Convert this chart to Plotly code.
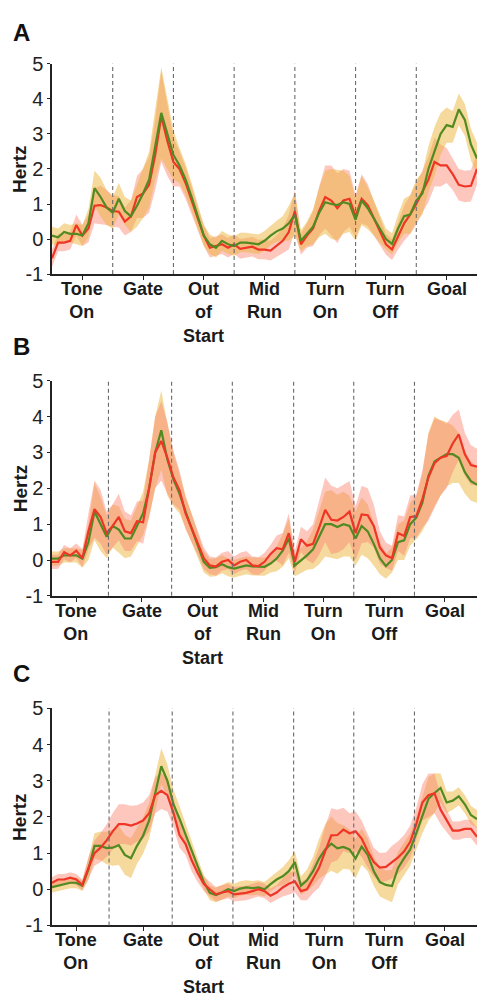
import plotly.graph_objects as go

TIME = [0.0, 0.1, 0.2, 0.3, 0.4, 0.5, 0.6, 0.7, 0.8, 0.9,
        1.0, 1.1, 1.2, 1.3, 1.4, 1.5, 1.6, 1.7, 1.8, 1.9,
        2.0, 2.1, 2.2, 2.3, 2.4, 2.5, 2.6, 2.7, 2.8, 2.9,
        3.0, 3.1, 3.2, 3.3, 3.4, 3.5, 3.6, 3.7, 3.8, 3.9,
        4.0, 4.1, 4.2, 4.3, 4.4, 4.5, 4.6, 4.7, 4.8, 4.9,
        5.0, 5.1, 5.2, 5.3, 5.4, 5.5, 5.6, 5.7, 5.8, 5.9,
        6.0, 6.1, 6.2, 6.3, 6.4, 6.5, 6.6, 6.7, 6.8, 6.9, 7.0]

CATEGORIES = ["Tone<br>On", "Gate", "Out<br>of<br>Start", "Mid<br>Run",
              "Turn<br>On", "Turn<br>Off", "Goal"]
PANEL_LABELS = ["A", "B", "C"]
Y_TICKS = [-1, 0, 1, 2, 3, 4, 5]

# ---- Panel A ----
RED_A = [-0.55, -0.1, -0.1, -0.05, 0.4, 0.1, 0.3, 0.95, 0.97, 0.9,
         0.8, 0.78, 0.5, 0.65, 1.2, 1.3, 1.55, 2.4, 3.5, 2.8,
         2.2, 2.0, 1.6, 1.1, 0.55, 0.1, -0.25, -0.2, -0.15, -0.25,
         -0.15, -0.28, -0.25, -0.22, -0.3, -0.3, -0.33, -0.2, -0.05, 0.2,
         0.8, -0.15, 0.1, 0.3, 0.8, 1.2, 1.1, 0.88, 1.1, 1.15,
         0.65, 1.15, 0.97, 0.6, 0.2, -0.15, -0.3, 0.1, 0.45, 0.7,
         1.0, 1.35, 1.7, 2.2, 2.1, 2.1, 1.85, 1.55, 1.5, 1.52, 2.0]
GREEN_A = [0.1, 0.05, 0.2, 0.15, 0.15, 0.1, 0.45, 1.45, 1.2, 0.9,
           0.75, 1.15, 0.8, 0.65, 0.95, 1.3, 1.7, 2.7, 3.6, 3.0,
           2.4, 2.1, 1.7, 1.2, 0.65, 0.1, -0.15, -0.25, -0.05, -0.15,
           -0.2, -0.1, -0.1, -0.12, -0.15, -0.05, 0.1, 0.22, 0.3, 0.45,
           0.7, -0.05, 0.15, 0.35, 0.75, 1.05, 1.0, 0.97, 1.05, 1.0,
           0.55, 1.1, 0.88, 0.6, 0.3, 0.0, -0.14, 0.3, 0.65, 0.7,
           1.1, 1.3, 2.0, 2.5, 3.0, 3.25, 3.2, 3.7, 3.4, 2.7, 2.3]
SEM_A = [0.25, 0.25, 0.25, 0.25, 0.3, 0.3, 0.4, 0.5, 0.55, 0.5,
         0.45, 0.45, 0.4, 0.45, 0.6, 0.7, 0.8, 1.0, 1.3, 1.0,
         0.7, 0.5, 0.45, 0.4, 0.35, 0.3, 0.28, 0.28, 0.28, 0.28,
         0.28, 0.28, 0.28, 0.28, 0.28, 0.28, 0.28, 0.3, 0.35, 0.5,
         0.6, 0.3, 0.35, 0.5, 0.7, 0.9, 1.0, 1.0, 0.9, 0.8,
         0.6, 0.7, 0.6, 0.5, 0.4, 0.3, 0.3, 0.4, 0.5, 0.55,
         0.6, 0.6, 0.65, 0.7, 0.6, 0.5, 0.45, 0.45, 0.45, 0.45, 0.45]

# ---- Panel B ----
RED_B = [-0.05, -0.05, 0.22, 0.13, 0.26, 0.05, 0.8, 1.42, 1.2, 0.75,
         0.95, 1.2, 0.8, 0.75, 1.08, 1.05, 2.0, 3.0, 3.32, 2.85,
         2.3, 1.95, 1.3, 0.9, 0.5, 0.05, -0.15, -0.18, -0.05, 0.0,
         -0.15, -0.05, 0.0, -0.15, -0.17, -0.05, 0.17, 0.33, 0.3, 0.75,
         -0.05, 0.58, 0.4, 0.45, 0.9, 1.4, 1.12, 1.1, 1.2, 1.35,
         0.75, 1.27, 1.25, 0.95, 0.35, 0.13, 0.05, 0.75, 0.67, 1.2,
         1.22, 1.7, 2.3, 2.7, 2.85, 2.9, 3.25, 3.5, 2.95, 2.65, 2.6]
GREEN_B = [0.04, 0.04, 0.13, 0.13, 0.13, 0.04, 0.5, 1.35, 1.0, 0.65,
           0.95, 0.85, 0.6, 0.6, 0.95, 1.3, 2.0, 3.0, 3.62, 2.8,
           2.25, 1.85, 1.35, 0.9, 0.4, -0.05, -0.22, -0.2, -0.12, -0.2,
           -0.24, -0.2, -0.15, -0.18, -0.19, -0.19, -0.1, 0.04, 0.26, 0.6,
           -0.15, -0.02, 0.13, 0.3, 0.63, 1.0, 1.0, 0.92, 1.0, 0.95,
           0.6, 0.95, 0.8, 0.45, 0.05, -0.17, 0.0, 0.5, 0.55, 1.0,
           1.18, 1.6, 2.35, 2.75, 2.85, 2.95, 2.95, 2.85, 2.45, 2.2, 2.1]
SEM_B = [0.2, 0.2, 0.2, 0.2, 0.2, 0.25, 0.5, 0.8, 0.75, 0.6,
         0.6, 0.65, 0.55, 0.5, 0.55, 0.6, 0.8, 1.0, 1.1, 1.0,
         0.75, 0.55, 0.45, 0.4, 0.35, 0.3, 0.25, 0.25, 0.25, 0.25,
         0.25, 0.25, 0.25, 0.25, 0.25, 0.25, 0.25, 0.35, 0.45, 0.55,
         0.3, 0.35, 0.4, 0.55, 0.75, 0.9, 0.95, 0.9, 0.9, 0.85,
         0.75, 0.8, 0.75, 0.6, 0.45, 0.35, 0.35, 0.5, 0.55, 0.6,
         0.6, 0.8, 1.2, 1.25, 1.05, 0.9, 0.8, 0.7, 0.6, 0.55, 0.5]

# ---- Panel C ----
RED_C = [0.18, 0.27, 0.27, 0.32, 0.27, 0.12, 0.59, 1.0, 1.15, 1.35,
         1.6, 1.8, 1.8, 1.76, 1.82, 1.9, 2.1, 2.6, 2.72, 2.6,
         2.12, 1.5, 1.25, 0.8, 0.45, 0.15, 0.0, -0.14, -0.09, -0.05,
         -0.14, -0.12, -0.1, -0.05, 0.0, -0.05, -0.18, -0.09, 0.05, 0.15,
         0.22, -0.05, 0.0, 0.3, 0.6, 1.05, 1.49, 1.5, 1.65, 1.55,
         1.6, 1.4, 1.05, 0.75, 0.6, 0.62, 0.75, 0.88, 1.05, 1.31,
         1.8, 2.4, 2.6, 2.65, 2.2, 1.9, 1.62, 1.62, 1.67, 1.67, 1.45]
GREEN_C = [0.06, 0.1, 0.15, 0.18, 0.18, 0.1, 0.55, 1.2, 1.2, 1.14,
           1.15, 1.22, 0.95, 0.86, 1.2, 1.48, 1.9, 2.66, 3.4, 3.0,
           2.35, 1.95, 1.5, 1.05, 0.6, 0.2, -0.1, -0.16, -0.09, 0.0,
           -0.05, 0.02, 0.05, 0.03, 0.05, 0.0, 0.14, 0.27, 0.36, 0.5,
           0.75, 0.1, 0.25, 0.5, 0.85, 1.1, 1.26, 1.13, 1.17, 1.1,
           0.85, 1.18, 0.95, 0.5, 0.2, 0.12, 0.09, 0.59, 0.86, 1.1,
           1.55, 2.05, 2.5, 2.66, 2.8, 2.4, 2.45, 2.57, 2.35, 2.05, 1.94]
SEM_C = [0.15, 0.15, 0.15, 0.15, 0.15, 0.15, 0.3, 0.35, 0.4, 0.45,
         0.5, 0.55, 0.55, 0.55, 0.5, 0.5, 0.5, 0.5, 0.5, 0.45,
         0.4, 0.35, 0.3, 0.3, 0.25, 0.2, 0.2, 0.2, 0.2, 0.2,
         0.2, 0.2, 0.2, 0.2, 0.2, 0.2, 0.2, 0.2, 0.25, 0.3,
         0.3, 0.25, 0.3, 0.4, 0.55, 0.7, 0.75, 0.7, 0.6, 0.55,
         0.55, 0.5, 0.45, 0.4, 0.4, 0.4, 0.45, 0.45, 0.45, 0.45,
         0.45, 0.5, 0.6, 0.55, 0.4, 0.3, 0.25, 0.25, 0.25, 0.25, 0.25]

# ---- layout constants ----
W, H = 477, 1002
PLOT_LEFT = 52
PANEL_TOPS = [54, 378, 713]
PANEL_BOTTOMS = [269, 598, 935]
LETTER_Y = [22, 343, 677]
BOUNDS = [[1, 2, 3, 4, 5, 6],
          [0.93, 1.97, 2.97, 3.98, 4.97, 5.97],
          [0.94, 1.98, 2.98, 3.98, 4.97, 5.97]]
TICKS = [[0.5, 1.5, 2.5, 3.5, 4.5, 5.5, 6.5],
         [0.4, 1.48, 2.48, 3.48, 4.47, 5.47, 6.47],
         [0.4, 1.5, 2.5, 3.49, 4.49, 5.48, 6.47]]

RED_COLOR = "#EE3526"
GREEN_COLOR = "#528A22"
PINK_FILL = "rgba(250,130,110,0.45)"
YELLOW_FILL = "rgba(235,180,60,0.50)"
FONT = "Liberation Sans, Arial, sans-serif"

# (red, green, sem, which line on top, which band on top)
panels = [(RED_A, GREEN_A, SEM_A, "green", "yellow"),
          (RED_B, GREEN_B, SEM_B, "red", "pink"),
          (RED_C, GREEN_C, SEM_C, "red", "pink")]

fig = go.Figure()
annotations = []
shapes = []

for p, (red, green, sem, top_line, top_band) in enumerate(panels):
    sfx = "" if p == 0 else str(p + 1)
    xa, ya = "x" + sfx, "y" + sfx

    def band(mean, color):
        lo = [m - s for m, s in zip(mean, sem)]
        hi = [m + s for m, s in zip(mean, sem)]
        fig.add_trace(go.Scatter(x=TIME, y=lo, mode="lines", line=dict(width=0),
                                 xaxis=xa, yaxis=ya, showlegend=False, hoverinfo="skip"))
        fig.add_trace(go.Scatter(x=TIME, y=hi, mode="lines", line=dict(width=0),
                                 fill="tonexty", fillcolor=color,
                                 xaxis=xa, yaxis=ya, showlegend=False, hoverinfo="skip"))

    if top_band == "yellow":
        band(red, PINK_FILL)
        band(green, YELLOW_FILL)
    else:
        band(green, YELLOW_FILL)
        band(red, PINK_FILL)

    order = [(red, RED_COLOR), (green, GREEN_COLOR)] if top_line == "green" else \
            [(green, GREEN_COLOR), (red, RED_COLOR)]
    for series, color in order:
        fig.add_trace(go.Scatter(x=TIME, y=series, mode="lines",
                                 line=dict(color=color, width=2.2),
                                 xaxis=xa, yaxis=ya, showlegend=False))

    y0 = 1 - PANEL_BOTTOMS[p] / H
    y1 = 1 - PANEL_TOPS[p] / H
    fig.update_layout(**{
        "xaxis" + sfx: dict(domain=[PLOT_LEFT / W, 1], range=[0, 7], anchor=ya,
                            showgrid=False, zeroline=False, showline=True,
                            linecolor="#222", linewidth=1.5,
                            ticks="outside", ticklen=4, tickwidth=1.2, tickcolor="#222",
                            tickvals=TICKS[p], showticklabels=False, fixedrange=True),
        "yaxis" + sfx: dict(domain=[y0, y1], range=[-1, 5], anchor=xa,
                            showgrid=False, zeroline=False, showline=True,
                            linecolor="#222", linewidth=1.5,
                            ticks="outside", ticklen=3, tickwidth=1.2, tickcolor="#222",
                            tickvals=Y_TICKS, ticktext=[str(t) for t in Y_TICKS],
                            tickfont=dict(family=FONT, size=20, color="#222"),
                            fixedrange=True),
    })

    for b in BOUNDS[p]:
        shapes.append(dict(type="line", xref=xa, yref=ya + " domain", x0=b, x1=b, y0=0, y1=1,
                           line=dict(color="#6a6a6a", width=1.1, dash="4px,3px")))

    for tv, label in zip(TICKS[p], CATEGORIES):
        annotations.append(dict(x=tv, y=0, xref=xa, yref=ya + " domain",
                                text="<b>" + label + "</b>", showarrow=False,
                                xanchor="center", yanchor="top", yshift=-4,
                                borderpad=0,
                                font=dict(family=FONT, size=18, color="#1a1a1a")))

    annotations.append(dict(x=20 / W, y=(y0 + y1) / 2, xref="paper", yref="paper",
                            text="<b>Hertz</b>", showarrow=False, textangle=-90,
                            xanchor="center", yanchor="middle",
                            font=dict(family=FONT, size=19, color="#1a1a1a")))
    annotations.append(dict(x=11 / W, y=1 - LETTER_Y[p] / H, xref="paper", yref="paper",
                            text="<b>" + PANEL_LABELS[p] + "</b>", showarrow=False,
                            xanchor="left", yanchor="middle",
                            font=dict(family=FONT, size=24, color="#111")))

fig.update_layout(width=W, height=H, margin=dict(l=0, r=0, t=0, b=0),
                  paper_bgcolor="white", plot_bgcolor="white",
                  annotations=annotations, shapes=shapes, showlegend=False)

fig.write_html("out.html", config={"displayModeBar": False})
